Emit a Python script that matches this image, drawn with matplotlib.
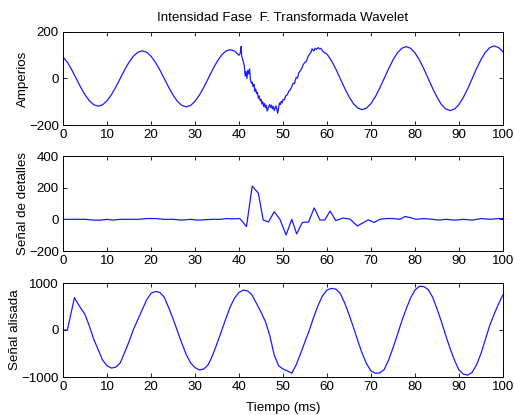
import matplotlib
matplotlib.use("Agg")
import matplotlib.pyplot as plt
import numpy as np

plt.rcParams['font.family'] = ['Liberation Sans', 'DejaVu Sans']
plt.rcParams['font.size'] = 9.6

# ---- Top panel: phase current (Amperios) ----
t_top_a = [0, 1, 2, 3, 4, 5, 6, 7, 8, 9, 10, 11, 12, 13, 14, 15, 16, 17, 18, 19,
           20, 21, 22, 23, 24, 25, 26, 27, 28, 29, 30, 31, 32, 33, 34, 35, 36, 37,
           38, 39, 40]
y_top_a = [92, 70, 37, 0, -37, -70, -96, -113, -119, -113, -96, -70, -37, 0, 37,
           70, 96, 113, 119, 113, 96, 70, 37, 0, -37, -71, -98, -116, -122, -116,
           -98, -71, -38, 0, 38, 72, 100, 118, 124, 118, 100]
t_top_b = [40.3, 40.5, 40.6, 40.8, 41.0, 41.2, 41.4, 41.6, 41.8, 42.0, 42.2, 42.4,
           42.6, 42.8, 43.0, 43.2, 43.4, 43.6, 43.8, 44.0, 44.2, 44.4, 44.6, 44.8,
           45.0, 45.2, 45.4, 45.6, 45.8, 46.0, 46.2, 46.4, 46.6, 46.8, 47.0, 47.2,
           47.4, 47.6, 47.8, 48.0, 48.2, 48.4, 48.6, 48.8, 49.0, 49.2, 49.4, 49.6,
           49.8, 50.0, 50.3, 50.6, 51.0, 51.3, 51.6, 52.0, 52.3, 52.6, 53.0, 53.3,
           53.6, 54.0, 54.3, 54.6, 55.0, 55.3, 55.6, 56.0, 56.3, 56.6, 57.0, 57.3,
           57.6, 58.0, 58.3, 58.6, 59.0, 59.5]
y_top_b = [110, 138, 95, 85, 70, 55, 10, 30, 0, 35, 20, 42, -5, -20, -15, -35, -25,
           -55, -45, -65, -60, -85, -75, -95, -90, -110, -100, -120, -108, -125,
           -115, -140, -130, -118, -112, -125, -115, -130, -120, -138, -128, -118,
           -132, -150, -125, -105, -112, -98, -105, -90, -92, -75, -70, -55, -50,
           -35, -20, -22, 5, 2, 25, 35, 45, 60, 70, 72, 90, 105, 110, 128, 118, 130,
           125, 133, 127, 130, 118, 110]
t_top_c = [60, 61, 62, 63, 64, 65, 66, 67, 68, 69, 70, 71, 72, 73, 74, 75, 76, 77,
           78, 79, 80, 81, 82, 83, 84, 85, 86, 87, 88, 89, 90, 91, 92, 93, 94, 95,
           96, 97, 98, 99, 100]
y_top_c = [105, 77, 41, 0, -41, -78, -108, -127, -134, -127, -108, -78, -41, 0, 42,
           80, 110, 130, 137, 130, 110, 80, 42, 0, -42, -80, -112, -131, -138, -131,
           -112, -81, -43, 0, 43, 82, 113, 133, 140, 133, 115]

# ---- Middle panel: detail signal ----
t_det = [0, 3, 5, 7, 8.5, 10, 11.3, 13, 15, 17, 19, 21, 23, 25, 27, 29, 30.5, 32,
         34, 36, 37, 38.5, 40.2, 41.7, 43.0, 44.4, 45.5, 46.7, 48.0, 49.3, 50.7,
         52.0, 53.1, 54.4, 55.8, 57.1, 58.4, 59.5, 60.7, 62.0, 63.6, 65.2, 66.9,
         68.3, 69.4, 70.7, 72.0, 73.5, 75.0, 76.6, 77.7, 79.0, 80.3, 82, 84, 85.5,
         87, 89, 91, 93, 95, 97, 99, 100]
y_det = [0, 0, 0, -5, -5, 0, -5, 0, 0, 0, 5, 5, 0, 0, -5, 0, -5, -3, 0, 0, 5, 3,
         5, -46, 210, 165, -4, -17, 48, 0, -99, 0, -92, -20, -17, 72, -4, -4, 52,
         -8, 8, 2, -42, -20, -3, -20, 0, 5, 5, 0, 18, 10, 0, 5, 0, -5, 0, -5, 0, -5,
         5, 0, 5, 5]

# ---- Bottom panel: smoothed signal ----
t_smooth = [0, 1, 2.6, 3, 4, 5, 6, 7, 8, 9, 10, 11, 12, 13, 14, 15, 16, 17, 18, 19,
            20, 21, 22, 23, 24, 25, 26, 27, 28, 29, 30, 31, 32, 33, 34, 35, 36, 37,
            38, 39, 40, 41, 42, 43, 44, 45, 46, 47, 48, 49, 50, 51, 52, 53, 54, 55,
            56, 57, 58, 59, 60, 61, 62, 63, 64, 65, 66, 67, 68, 69, 70, 71, 72, 73,
            74, 75, 76, 77, 78, 79, 80, 81, 82, 83, 84, 85, 86, 87, 88, 89, 90, 91,
            92, 93, 94, 95, 96, 97, 98, 99, 100]
y_smooth = [0, 0, 690, 620, 470, 330, 80, -200, -420, -640, -760, -810, -790, -700,
            -480, -250, 10, 220, 430, 640, 780, 820, 800, 700, 480, 240, -20, -280,
            -520, -700, -800, -850, -830, -740, -540, -290, -30, 240, 490, 680, 800,
            850, 830, 740, 560, 380, 180, -120, -530, -760, -830, -870, -920, -740,
            -500, -250, 0, 280, 530, 730, 850, 885, 870, 780, 580, 330, 60, -230,
            -500, -720, -870, -920, -915, -840, -640, -380, -100, 190, 450, 680, 850,
            930, 925, 860, 700, 450, 180, -120, -400, -650, -850, -940, -960, -900,
            -740, -500, -200, 100, 340, 560, 750]

x_ticks = [0, 10, 20, 30, 40, 50, 60, 70, 80, 90, 100]

fig = plt.figure(figsize=(5.14, 4.15), dpi=100)
W, H = 514, 415


def add_ax(top, bottom):
    return fig.add_axes([63 / W, 1 - bottom / H, 440 / W, (bottom - top) / H])


ax1 = add_ax(32, 125)
ax2 = add_ax(156, 251)
ax3 = add_ax(283, 377)

line_kw = dict(color=(0.1, 0.1, 1.0), lw=0.9)
ax1.plot(t_top_a + t_top_b + t_top_c, y_top_a + y_top_b + y_top_c, **line_kw)
ax2.plot(t_det, y_det, **line_kw)
ax3.plot(t_smooth, y_smooth, **line_kw)

ax1.set_ylim(-200, 200)
ax1.set_yticks([-200, 0, 200])
ax2.set_ylim(-200, 400)
ax2.set_yticks([-200, 0, 200, 400])
ax3.set_ylim(-1000, 1000)
ax3.set_yticks([-1000, 0, 1000])

for ax in (ax1, ax2, ax3):
    ax.set_xlim(0, 100)
    ax.set_xticks(x_ticks)
    ax.tick_params(direction='in', top=True, right=True, length=3, width=0.6,
                   pad=3, labelsize=9.6)
    for s in ax.spines.values():
        s.set_linewidth(0.7)

ax1.set_title('Intensidad Fase  F. Transformada Wavelet', fontsize=9.6, pad=8)
ax1.set_ylabel('Amperios', labelpad=0)
ax2.set_ylabel('Señal de detalles', labelpad=0)
ax3.set_ylabel('Señal alisada', labelpad=0)
ax3.set_xlabel('Tiempo (ms)', labelpad=6)

fig.savefig('out.png', dpi=100)
